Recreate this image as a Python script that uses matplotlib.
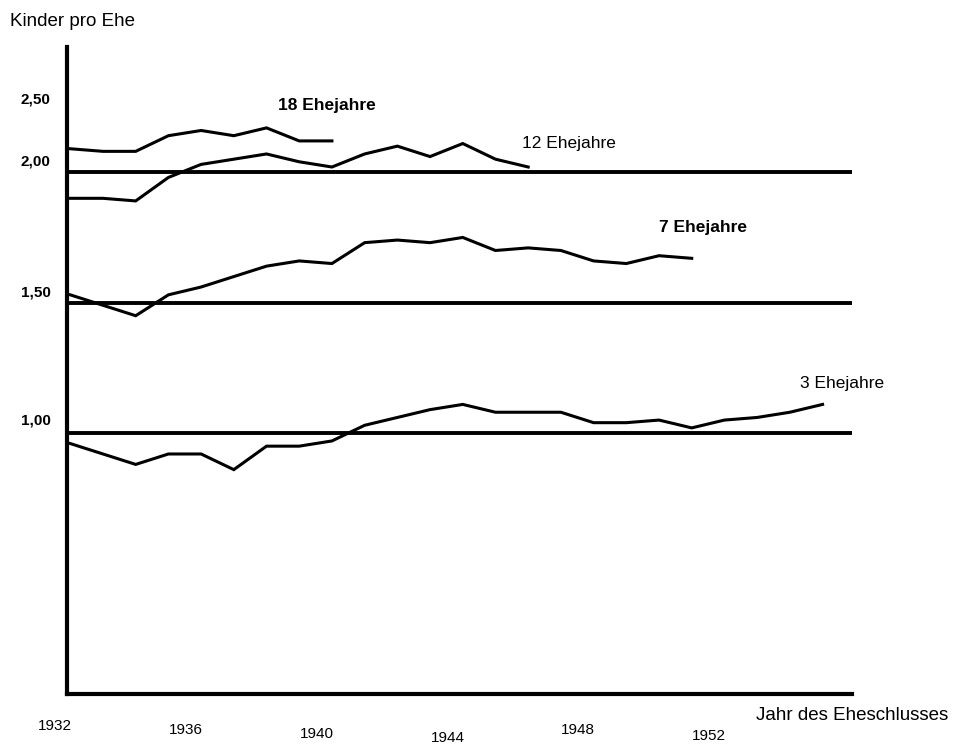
import matplotlib.pyplot as plt

# Kinder pro Ehe nach Ehedauer und Jahr des Eheschlusses
years_18 = list(range(1932, 1941))
kids_18 = [2.09, 2.08, 2.08, 2.14, 2.16, 2.14, 2.17, 2.12, 2.12]

years_12 = list(range(1932, 1947))
kids_12 = [1.90, 1.90, 1.89, 1.98, 2.03, 2.05, 2.07, 2.04, 2.02, 2.07, 2.10, 2.06, 2.11, 2.05, 2.02]

years_7 = list(range(1932, 1952))
kids_7 = [1.53, 1.49, 1.45, 1.53, 1.56, 1.60, 1.64, 1.66, 1.65, 1.73,
          1.74, 1.73, 1.75, 1.70, 1.71, 1.70, 1.66, 1.65, 1.68, 1.67]

years_3 = list(range(1932, 1956))
kids_3 = [0.96, 0.92, 0.88, 0.92, 0.92, 0.86, 0.95, 0.95, 0.97, 1.03, 1.06, 1.09,
          1.11, 1.08, 1.08, 1.08, 1.04, 1.04, 1.05, 1.02, 1.05, 1.06, 1.08, 1.11]

ref_levels = [2.0, 1.5, 1.0]

xtick_years = [1932, 1936, 1940, 1944, 1948, 1952]
ytick_labels = ["2,50", "2,00", "1,50", "1,00"]

plt.rcParams['font.family'] = ['Liberation Sans', 'DejaVu Sans']

fig = plt.figure(figsize=(9.54, 7.45), dpi=100)
ax = fig.add_axes([67/954, 1 - 694/745, 785/954, 647/745])

for lvl in ref_levels:
    ax.axhline(lvl, color='black', lw=2.8)

for x, y in [(years_18, kids_18), (years_12, kids_12), (years_7, kids_7), (years_3, kids_3)]:
    ax.plot(x, y, color='black', lw=2.2, solid_joinstyle='miter')

ax.set_xlim(1931.9, 1955.9)
ax.set_ylim(0, 2.48)

for s in ['top', 'right']:
    ax.spines[s].set_visible(False)
for s in ['left', 'bottom']:
    ax.spines[s].set_linewidth(3)
ax.set_xticks([])
ax.set_yticks([])

# Beschriftung der Kurven
ax.text(1938.35, 2.255, "18 Ehejahre", fontsize=12.5, fontweight='bold', va='center')
ax.text(1945.8, 2.11, "12 Ehejahre", fontsize=12.5, va='center')
ax.text(1950.0, 1.79, "7 Ehejahre", fontsize=12.5, fontweight='bold', va='center')
ax.text(1954.3, 1.19, "3 Ehejahre", fontsize=12.5, va='center')

# y-Achse: Beschriftung wie im Original leicht versetzt
ylab_pos = [2.28, 2.04, 1.54, 1.05]
for lab, yp in zip(ytick_labels, ylab_pos):
    ax.text(-0.021, yp, lab, transform=ax.get_yaxis_transform(),
            ha='right', va='center', fontsize=11, fontweight='bold')

# x-Achse: Jahreszahlen gestaffelt
xlab_dy = [-0.050, -0.055, -0.062, -0.068, -0.055, -0.065]
for yr, dy in zip(xtick_years, xlab_dy):
    ax.text(yr - 0.47, dy, str(yr), transform=ax.get_xaxis_transform(),
            ha='center', va='center', fontsize=11)

fig.text(10/954, 1 - 22/745, "Kinder pro Ehe", fontsize=13.5, va='center')
fig.text(948/954, 1 - 716/745, "Jahr des Eheschlusses", fontsize=13.5, ha='right', va='center')

fig.savefig('out.png', dpi=100)
